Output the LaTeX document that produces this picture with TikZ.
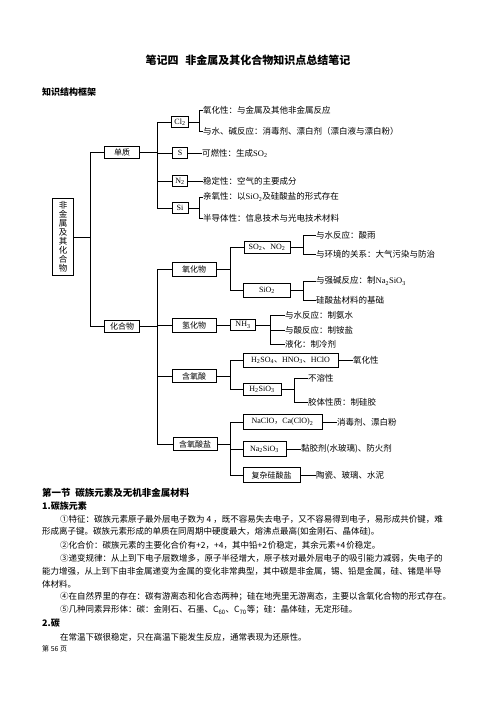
\documentclass[tikz,border=0pt]{standalone}
\usepackage{fontspec}
\setmainfont{Noto Sans CJK SC}
\newfontfamily\lat{Liberation Serif}
\XeTeXlinebreaklocale "zh"
\XeTeXlinebreakskip=0pt plus 1pt minus 1.5pt
\newcommand\chem[1]{{\lat #1}}

\begin{document}
\begin{tikzpicture}[x=1pt,y=-1pt,
    box/.style={draw, line width=0.9pt, inner sep=1pt, minimum height=12pt, font=\fontsize{8}{9}\selectfont},
    leaf/.style={anchor=west, inner sep=0pt, font=\fontsize{8.5}{9}\selectfont},
    link/.style={line width=0.7pt},
    body/.style={anchor=west, inner sep=0pt, font=\fontsize{8.5}{10}\selectfont},
    head/.style={anchor=west, inner sep=0pt, font=\fontsize{9.5}{11}\selectfont\bfseries}]
    \useasboundingbox (0,0) rectangle (496,702);

    % --- TITLE ---
    \node[font=\fontsize{11}{13}\selectfont\bfseries] (title) at (248,60) {笔记四\hspace{0.6em}非金属及其化合物知识点总结笔记};
    \node[head, font=\fontsize{9}{11}\selectfont\bfseries] (frame) at (42,92) {知识结构框架};

    % --- ROOT ---
    \node[box, align=center, inner sep=3pt, minimum width=21pt, font=\fontsize{8.5}{9}\selectfont] (root) at (63,237) {非\\金\\属\\及\\其\\化\\合\\物};
    \node[box, minimum width=35pt] (dz) at (122,152) {单质};
    \node[box, minimum width=35pt] (hhw) at (122,326) {化合物};
    \coordinate (bus0) at (90,0);
    \draw[link] (root.east) -- (root.east -| bus0);
    \draw[link] (dz.west) -| (bus0 |- hhw.west) -- (hhw.west);

    % --- SIMPLE SUBSTANCES ---
    \coordinate (bus1) at (157,0);
    \coordinate (bus2) at (199,0);
    \node[box, minimum width=17pt, minimum height=11pt] (cl) at (180,122) {\chem{Cl\textsubscript{2}}};
    \node[box, minimum width=15pt, minimum height=11pt] (s) at (180,153) {\chem{S}};
    \node[box, minimum width=15pt, minimum height=11pt] (n) at (180,181) {\chem{N\textsubscript{2}}};
    \node[box, minimum width=16pt, minimum height=11pt] (si) at (180,208) {\chem{Si}};
    \draw[link] (dz.east) -- (dz.east -| bus1);
    \draw[link] (cl.west) -| (bus1 |- si.west) -- (si.west);
    \draw[link] (s.west) -- (s.west -| bus1) (n.west) -- (n.west -| bus1);

    \node[leaf] (cl1) at (203,110) {氧化性：与金属及其他非金属反应};
    \node[leaf] (cl2) at (203,131) {与水、碱反应：消毒剂、漂白剂（漂白液与漂白粉）};
    \draw[link] (cl.east) -- (cl.east -| bus2);
    \draw[link] (cl1.west) -| (bus2 |- cl2.west) -- (cl2.west);
    \node[leaf] (s1) at (202,153) {可燃性：生成\chem{SO\textsubscript{2}}};
    \draw[link] (s) -- (s1);
    \node[leaf] (n1) at (203,181) {稳定性：空气的主要成分};
    \draw[link] (n) -- (n1);
    \node[leaf] (si1) at (203,197) {亲氧性：以\chem{SiO\textsubscript{2}}及硅酸盐的形式存在};
    \node[leaf] (si2) at (203,218) {半导体性：信息技术与光电技术材料};
    \draw[link] (si.east) -- (si.east -| bus2);
    \draw[link] (si1.west) -| (bus2 |- si2.west) -- (si2.west);

    % --- COMPOUNDS ---
    \node[box, minimum width=44pt, minimum height=14pt] (yhw) at (194,269) {氧化物};
    \node[box, minimum width=44pt, minimum height=14pt] (qhw) at (194,325) {氢化物};
    \node[box, minimum width=44pt, minimum height=13pt] (hys) at (194,376) {含氧酸};
    \node[box, minimum width=44pt, minimum height=13pt] (hysy) at (195,444) {含氧酸盐};
    \draw[link] (hhw.east) -- (hhw.east -| bus1);
    \draw[link] (yhw.west) -| (bus1 |- hysy.west) -- (hysy.west);
    \draw[link] (qhw.west) -- (qhw.west -| bus1) (hys.west) -- (hys.west -| bus1);

    \coordinate (bus3) at (230,0);
    \coordinate (bus4) at (303,0);
    % oxides
    \node[box, minimum width=46pt] (so) at (267,247) {\chem{SO\textsubscript{2}}、\chem{NO\textsubscript{2}}};
    \node[box, minimum width=47pt, minimum height=14pt] (sio) at (267,290) {\chem{SiO\textsubscript{2}}};
    \draw[link] (yhw.east) -- (yhw.east -| bus3);
    \draw[link] (so.west) -| (bus3 |- sio.west) -- (sio.west);
    \node[leaf] (so1) at (316,235) {与水反应：酸雨};
    \node[leaf] (so2) at (316,254) {与环境的关系：大气污染与防治};
    \draw[link] (so.east) -- (so.east -| bus4);
    \draw[link] (so1.west) -| (bus4 |- so2.west) -- (so2.west);
    \node[leaf] (sio1) at (316,281) {与强碱反应：制\chem{Na\textsubscript{2}SiO\textsubscript{3}}};
    \node[leaf] (sio2) at (316,300) {硅酸盐材料的基础};
    \draw[link] (sio.east) -- (sio.east -| bus4);
    \draw[link] (sio1.west) -| (bus4 |- sio2.west) -- (sio2.west);

    % hydrides
    \coordinate (bus5) at (270,0);
    \node[box, minimum width=25pt, minimum height=11pt] (nh) at (243,325) {\chem{NH\textsubscript{3}}};
    \draw[link] (qhw) -- (nh);
    \node[leaf] (nh1) at (285,315) {与水反应：制氨水};
    \node[leaf] (nh2) at (285,330) {与酸反应：制铵盐};
    \node[leaf] (nh3) at (285,344) {液化：制冷剂};
    \draw[link] (nh.east) -- (nh.east -| bus5);
    \draw[link] (nh1.west) -| (bus5 |- nh3.west) -- (nh3.west);
    \draw[link] (nh2.west) -- (nh2.west -| bus5);

    % oxyacids
    \coordinate (bus6) at (294,0);
    \node[box, minimum width=95pt, minimum height=14pt] (acid) at (290.5,360) {\chem{H\textsubscript{2}SO\textsubscript{4}}、\chem{HNO\textsubscript{3}}、\chem{HClO}};
    \node[box, minimum width=38pt] (hsio) at (262,389) {\chem{H\textsubscript{2}SiO\textsubscript{3}}};
    \draw[link] (hys.east) -- (hys.east -| bus3);
    \draw[link] (acid.west) -| (bus3 |- hsio.west) -- (hsio.west);
    \node[leaf] (acid1) at (353,360) {氧化性};
    \draw[link] (acid) -- (acid1);
    \node[leaf] (hsio1) at (308,378) {不溶性};
    \node[leaf] (hsio2) at (308,402) {胶体性质：制硅胶};
    \draw[link] (hsio.east) -- (hsio.east -| bus6);
    \draw[link] (hsio1.west) -| (bus6 |- hsio2.west) -- (hsio2.west);

    % oxyacid salts
    \node[box, minimum width=79pt, minimum height=15pt] (clo) at (282.5,422) {\chem{NaClO}，\chem{Ca(ClO)\textsubscript{2}}};
    \node[box, minimum width=43pt, minimum height=15pt] (nasio) at (264.5,449) {\chem{Na\textsubscript{2}SiO\textsubscript{3}}};
    \node[box, minimum width=57pt, minimum height=15pt] (fz) at (271.5,475) {复杂硅酸盐};
    \draw[link] (hysy.east) -- (hysy.east -| bus3);
    \draw[link] (clo.west) -| (bus3 |- fz.west) -- (fz.west);
    \draw[link] (nasio.west) -- (nasio.west -| bus3);
    \node[leaf] (clo1) at (337,422) {消毒剂、漂白粉};
    \node[leaf] (nasio1) at (301,449) {黏胶剂(水玻璃)、防火剂};
    \node[leaf] (fz1) at (316,475) {陶瓷、玻璃、水泥};
    \draw[link] (clo) -- (clo1);
    \draw[link] (nasio) -- (nasio1);
    \draw[link] (fz) -- (fz1);

    % --- TEXT BELOW ---
    \node[head] (sec) at (42,493) {第一节\hspace{0.5em}碳族元素及无机非金属材料};
    \node[head, font=\fontsize{9}{11}\selectfont\bfseries] (h1) at (42,506) {1.碳族元素};
    \node[body] (p1) at (60,519) {\hbox to 393pt{①特征：碳族元素原子最外层电子数为\kern2pt 4\kern2pt，既不容易失去电子，又不容易得到电子，易形成共价键，难}};
    \node[body] (p2) at (42,532) {\hbox to 291pt{形成离子键。碳族元素形成的单质在同周期中硬度最大，熔沸点最高(如金刚石、晶体硅)。}};
    \node[body] (p3) at (60,545) {\hbox to 258pt{②化合价：碳族元素的主要化合价有+2，+4，其中铅+2\kern1pt 价稳定，其余元素+4\kern1pt 价稳定。}};
    \node[body] (p4) at (60,558) {\hbox to 393pt{③递变规律：从上到下电子层数增多，原子半径增大，原子核对最外层电子的吸引能力减弱，失电子的}};
    \node[body] (p5) at (42,571) {\hbox to 411pt{能力增强，从上到下由非金属递变为金属的变化非常典型，其中碳是非金属，锡、铅是金属，硅、锗是半导}};
    \node[body] (p6) at (42,584) {体材料。};
    \node[body] (p7) at (60,597) {④在自然界里的存在：碳有游离态和化合态两种；硅在地壳里无游离态，主要以含氧化合物的形式存在。};
    \node[body] (p8) at (60,610) {\hbox to 293pt{⑤几种同素异形体：碳：金刚石、石墨、C\textsubscript{60}、C\textsubscript{70}等；硅：晶体硅，无定形硅。}};
    \node[head, font=\fontsize{9}{11}\selectfont\bfseries] (h2) at (42,623) {2.碳};
    \node[body] (p9) at (60,637) {在常温下碳很稳定，只在高温下能发生反应，通常表现为还原性。};
    \node[body, font=\fontsize{7}{8}\selectfont] (pg) at (42,649) {第 56 页};
\end{tikzpicture}
\end{document}
